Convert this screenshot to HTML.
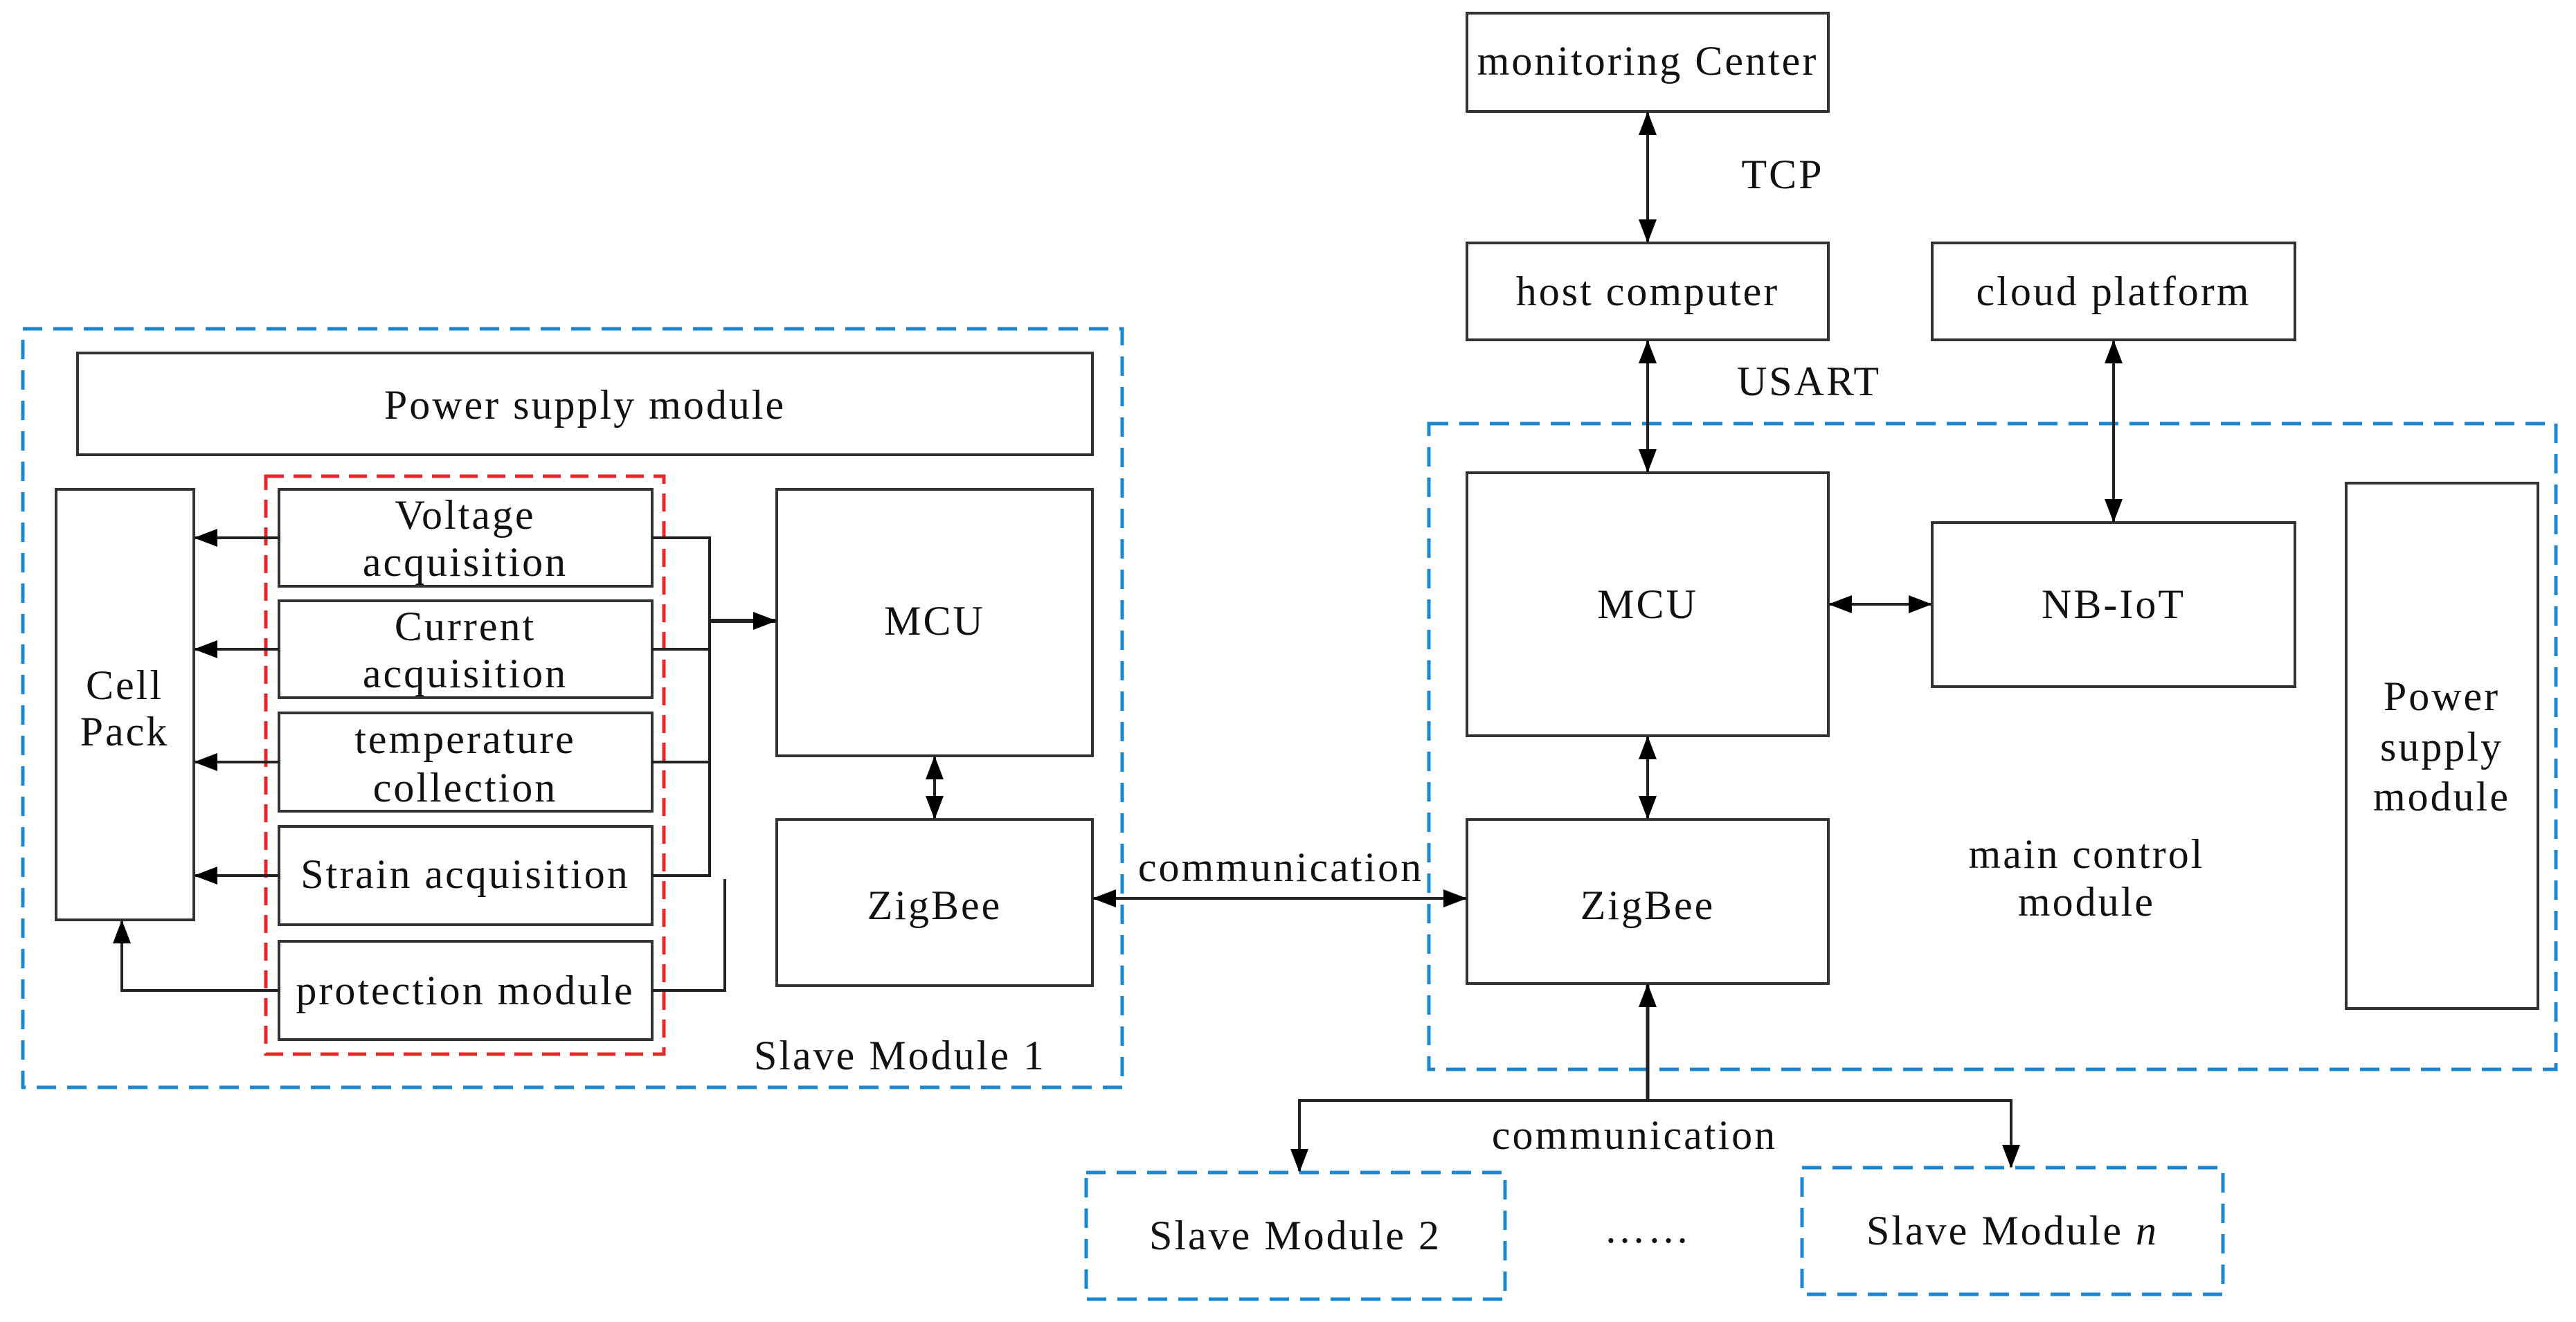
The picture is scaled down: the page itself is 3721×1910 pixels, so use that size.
<!DOCTYPE html>
<html><head><meta charset="utf-8"><style>
html,body{margin:0;padding:0;background:#fff;}
svg{display:block;}
text{font-family:"Liberation Serif",serif;fill:#111;text-anchor:middle;dominant-baseline:central;}
</style></head><body>
<svg width="3721" height="1910" viewBox="0 0 3721 1910" xmlns="http://www.w3.org/2000/svg">
<defs>
<marker id="a" markerUnits="userSpaceOnUse" markerWidth="34" markerHeight="26" refX="32" refY="13" orient="auto-start-reverse">
<path d="M0,0 L34,13 L0,26 Z" fill="#000"/></marker>
</defs>
<g fill="none" stroke="#1a87d0" stroke-width="5" stroke-dasharray="28,16">
<rect x="33" y="475" width="1588" height="1096"/>
<rect x="2064" y="612" width="1628" height="933"/>
<rect x="1569" y="1694" width="605" height="183"/>
<rect x="2603" y="1687" width="608" height="183"/>
</g>
<rect x="384" y="688" width="575" height="835" fill="none" stroke="#e8262a" stroke-width="5" stroke-dasharray="26,14"/>
<g fill="#fff" stroke="#333" stroke-width="4">
<rect x="112" y="510" width="1466" height="147"/>
<rect x="81" y="707" width="199" height="622"/>
<rect x="403" y="707" width="539" height="140"/>
<rect x="403" y="868" width="539" height="140"/>
<rect x="403" y="1030" width="539" height="142"/>
<rect x="403" y="1194" width="539" height="142"/>
<rect x="403" y="1360" width="539" height="142"/>
<rect x="1122" y="707" width="456" height="385"/>
<rect x="1122" y="1184" width="456" height="240"/>
<rect x="2119" y="19" width="522" height="142"/>
<rect x="2119" y="351" width="522" height="140"/>
<rect x="2791" y="351" width="524" height="140"/>
<rect x="2119" y="683" width="522" height="380"/>
<rect x="2791" y="755" width="524" height="237"/>
<rect x="3389" y="698" width="277" height="759"/>
<rect x="2119" y="1184" width="522" height="237"/>
</g>
<g fill="none" stroke="#222" stroke-width="4">
<line x1="403" y1="777" x2="282" y2="777" marker-end="url(#a)"/>
<line x1="403" y1="938" x2="282" y2="938" marker-end="url(#a)"/>
<line x1="403" y1="1101" x2="282" y2="1101" marker-end="url(#a)"/>
<line x1="403" y1="1265" x2="282" y2="1265" marker-end="url(#a)"/>
<polyline points="403,1431 176,1431 176,1331" marker-end="url(#a)"/>
<polyline points="942,777 1025,777 1025,1265 942,1265"/>
<line x1="942" y1="938" x2="1025" y2="938"/>
<line x1="942" y1="1101" x2="1025" y2="1101"/>
<line x1="1025" y1="897" x2="1120" y2="897" stroke-width="6" marker-end="url(#a)"/>
<polyline points="942,1431 1047,1431 1047,1270"/>
<line x1="1350" y1="1094" x2="1350" y2="1182" marker-start="url(#a)" marker-end="url(#a)"/>
<line x1="1580" y1="1298" x2="2117" y2="1298" marker-start="url(#a)" marker-end="url(#a)"/>
<line x1="2380" y1="163" x2="2380" y2="349" marker-start="url(#a)" marker-end="url(#a)"/>
<line x1="2380" y1="493" x2="2380" y2="681" marker-start="url(#a)" marker-end="url(#a)"/>
<line x1="3053" y1="493" x2="3053" y2="753" marker-start="url(#a)" marker-end="url(#a)"/>
<line x1="2643" y1="873" x2="2789" y2="873" marker-start="url(#a)" marker-end="url(#a)"/>
<line x1="2380" y1="1065" x2="2380" y2="1182" marker-start="url(#a)" marker-end="url(#a)"/>
<line x1="2380" y1="1590" x2="2380" y2="1423" stroke-width="5" marker-end="url(#a)"/>
<polyline points="1877,1692 1877,1590 2905,1590 2905,1686" marker-start="url(#a)" marker-end="url(#a)"/>
</g>
<g font-size="60" letter-spacing="3">
<text x="845" y="585">Power supply module</text>
<text x="180" y="990">Cell</text>
<text x="180" y="1057">Pack</text>
<text x="672" y="744">Voltage</text>
<text x="672" y="812">acquisition</text>
<text x="672" y="905">Current</text>
<text x="672" y="973">acquisition</text>
<text x="672" y="1068">temperature</text>
<text x="672" y="1138">collection</text>
<text x="672" y="1263">Strain acquisition</text>
<text x="672" y="1431">protection module</text>
<text x="1350" y="897">MCU</text>
<text x="1350" y="1308">ZigBee</text>
<text x="1300" y="1525">Slave Module 1</text>
<text x="1850" y="1253">communication</text>
<text x="2380" y="88">monitoring Center</text>
<text x="2575" y="252">TCP</text>
<text x="2380" y="421">host computer</text>
<text x="3053" y="421">cloud platform</text>
<text x="2613" y="551">USART</text>
<text x="2380" y="873">MCU</text>
<text x="3053" y="873">NB-IoT</text>
<text x="3527" y="1006">Power</text>
<text x="3527" y="1079">supply</text>
<text x="3527" y="1151">module</text>
<text x="3014" y="1234">main control</text>
<text x="3014" y="1303">module</text>
<text x="2380" y="1308">ZigBee</text>
<text x="2361" y="1640">communication</text>
<text x="1871" y="1785">Slave Module 2</text>
<text x="2380" y="1775">……</text>
<text x="2907" y="1778">Slave Module <tspan font-style="italic">n</tspan></text>
</g>
</svg>
</body></html>
